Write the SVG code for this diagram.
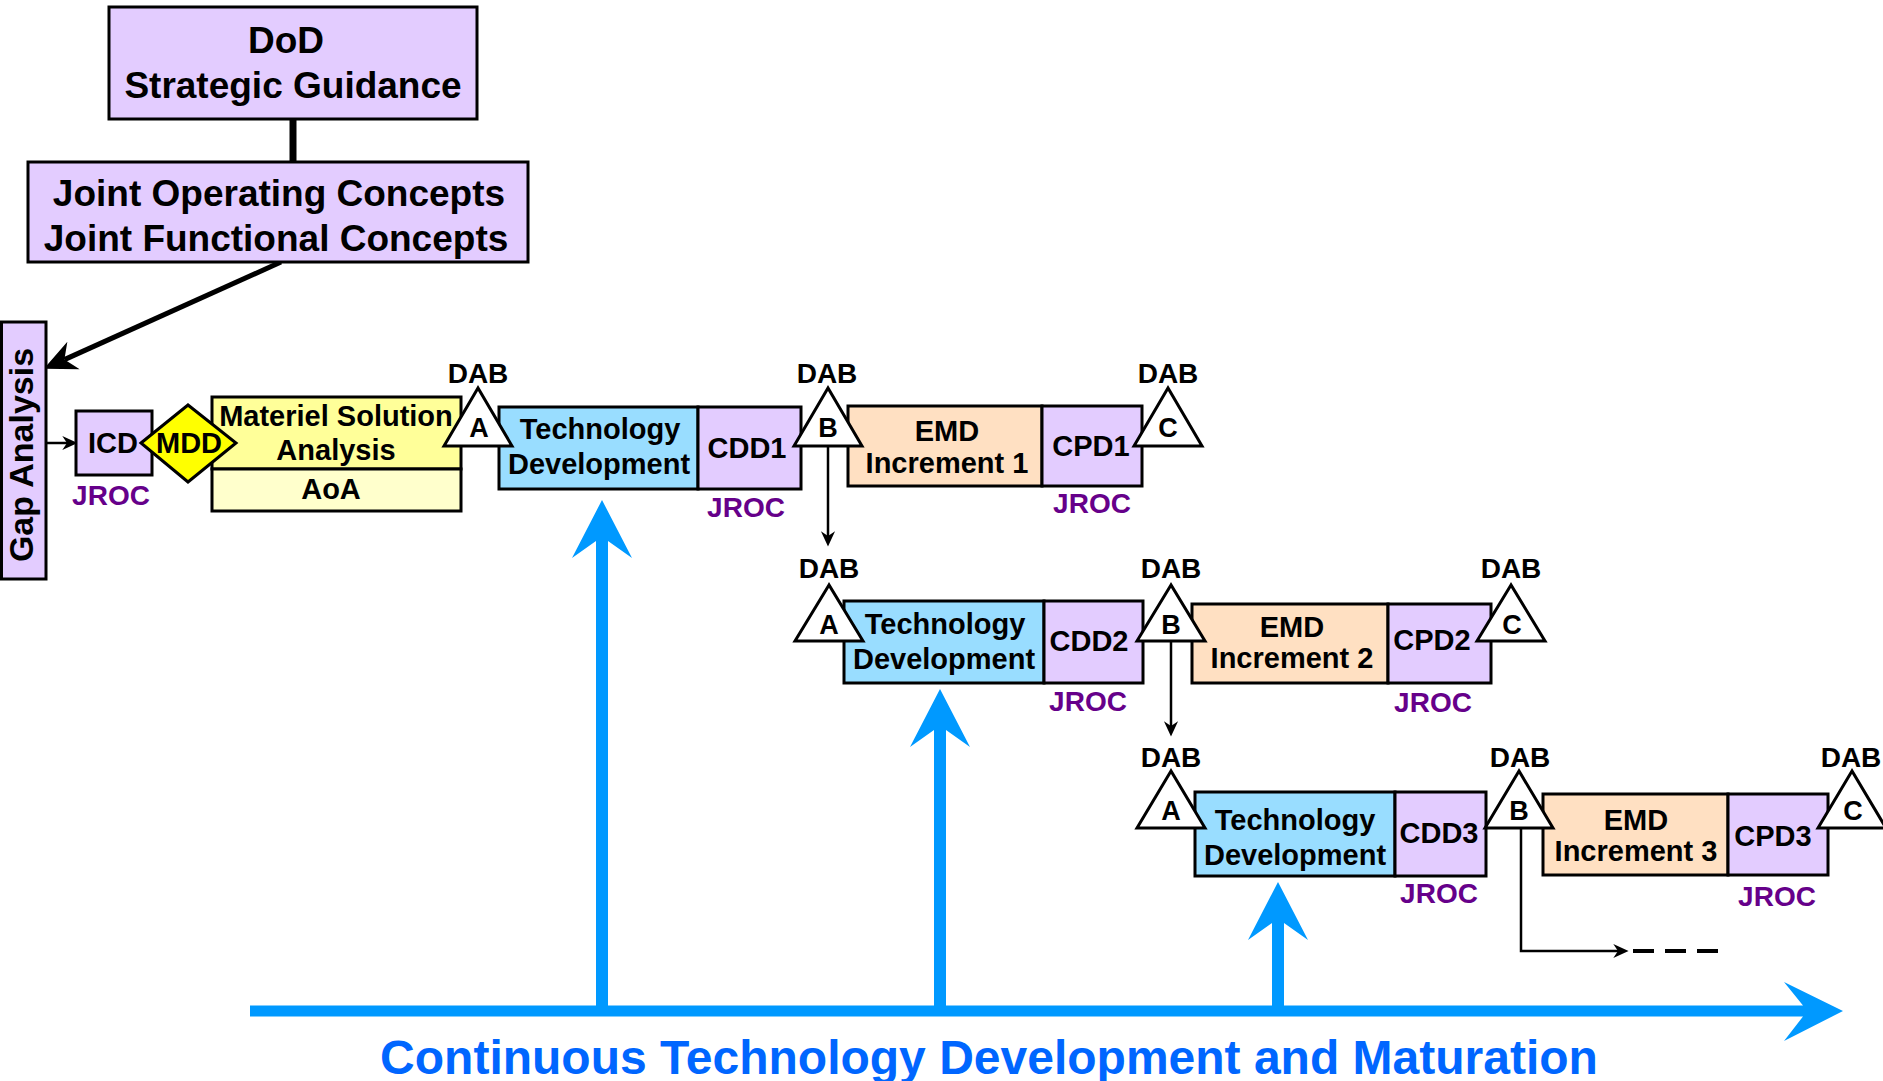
<svg xmlns="http://www.w3.org/2000/svg" width="1883" height="1081" viewBox="0 0 1883 1081">
<style>
text{font-family:"Liberation Sans",Arial,sans-serif;font-weight:bold;text-anchor:middle;fill:#000}
.big{font-size:37px}
.gap{font-size:34px}
.t{font-size:29px}
.dab{font-size:28px}
.l{font-size:27px}
.jroc{font-size:28px;fill:#66008A}
.box{stroke:#000;stroke-width:3}
.lav{fill:#E3CCFF}
.blu{fill:#99DDFF}
.pch{fill:#FFE0C2}
.tri{fill:#fff;stroke:#000;stroke-width:3;stroke-linejoin:miter}
.thin{fill:none;stroke:#000;stroke-width:2.5}
.bluearrow{fill:#0099FF}
.caption{font-size:48px;fill:#0066FF}
</style>
<defs>
<marker id="mBig" markerUnits="userSpaceOnUse" markerWidth="40" markerHeight="40" viewBox="-2 -16 32 32" refX="8" refY="0" orient="auto">
<path d="M0,-12 L26,0 L0,12 L8,0 Z" fill="#000"/>
</marker>
<marker id="mSm" markerUnits="userSpaceOnUse" markerWidth="20" markerHeight="20" viewBox="-2 -8 17 16" refX="4" refY="0" orient="auto">
<path d="M0,-6 L13,0 L0,6 L4,0 Z" fill="#000"/>
</marker>
</defs>

<g id="connectors">
<line x1="293" y1="119" x2="293" y2="162" stroke="#000" stroke-width="7"/>
<line x1="281" y1="262" x2="64.4" y2="359.6" stroke="#000" stroke-width="5" marker-end="url(#mBig)"/>
<line x1="46" y1="443" x2="67" y2="443" class="thin" marker-end="url(#mSm)"/>
<line x1="828" y1="446" x2="828" y2="536" class="thin" marker-end="url(#mSm)"/>
<line x1="1171" y1="641" x2="1171" y2="726" class="thin" marker-end="url(#mSm)"/>
<path d="M1521,828 V951 H1618" class="thin" marker-end="url(#mSm)"/>
<line x1="1633" y1="951" x2="1718" y2="951" stroke="#000" stroke-width="4" stroke-dasharray="21,11"/>
</g>

<g id="node-dod">
<rect x="109" y="7" width="368" height="112" class="box lav"/>
<text class="big" x="286" y="53">DoD</text>
<text class="big" x="293" y="98">Strategic Guidance</text>
</g>

<g id="node-joc">
<rect x="28" y="162" width="500" height="100" class="box lav"/>
<text class="big" x="279" y="206">Joint Operating Concepts</text>
<text class="big" x="276" y="251">Joint Functional Concepts</text>
</g>

<g id="node-gap">
<rect x="1.5" y="322" width="44.5" height="257" class="box lav"/>
<text class="gap" transform="translate(33,455) rotate(-90)" x="0" y="0">Gap Analysis</text>
</g>

<g id="node-icd">
<rect x="76" y="411" width="76" height="64" class="box lav"/>
<text class="t" x="113" y="453">ICD</text>
<text class="jroc" x="111" y="505">JROC</text>
</g>

<g id="node-msa">
<rect x="212" y="397" width="249" height="72" class="box" fill="#FFFF99"/>
<rect x="212" y="469" width="249" height="42" class="box" fill="#FFFFCC"/>
<text class="t" x="336" y="426">Materiel Solution</text>
<text class="t" x="336" y="460">Analysis</text>
<text class="t" x="331" y="499">AoA</text>
</g>

<g id="node-mdd">
<polygon points="141,443 188,405 236,443 188,482" fill="#FFFF00" stroke="#000" stroke-width="3"/>
<text class="t" x="189" y="453">MDD</text>
</g>

<!-- Row 1 -->
<g id="node-td1">
<rect x="499" y="407" width="199" height="82" class="box blu"/>
<text class="t" x="600" y="439">Technology</text>
<text class="t" x="599" y="474">Development</text>
</g>
<g id="node-cdd1">
<rect x="698" y="407" width="103" height="82" class="box lav"/>
<text class="t" x="747" y="458">CDD1</text>
<text class="jroc" x="746" y="517">JROC</text>
</g>
<g id="node-emd1">
<rect x="848" y="406" width="194" height="80" class="box pch"/>
<text class="t" x="947" y="441">EMD</text>
<text class="t" x="947" y="473">Increment 1</text>
</g>
<g id="node-cpd1">
<rect x="1042" y="406" width="100" height="80" class="box lav"/>
<text class="t" x="1091" y="456">CPD1</text>
<text class="jroc" x="1092" y="513">JROC</text>
</g>
<g id="node-dab-a1">
<text class="dab" x="478" y="383">DAB</text>
<polygon points="478,388 444,446 512,446" class="tri"/>
<text class="l" x="479" y="437">A</text>
</g>
<g id="node-dab-b1">
<text class="dab" x="827" y="383">DAB</text>
<polygon points="828,388 794,446 862,446" class="tri"/>
<text class="l" x="828" y="437">B</text>
</g>
<g id="node-dab-c1">
<text class="dab" x="1168" y="383">DAB</text>
<polygon points="1168,388 1134,446 1202,446" class="tri"/>
<text class="l" x="1168" y="437">C</text>
</g>

<!-- Row 2 -->
<g id="node-td2">
<rect x="844" y="601" width="200" height="82" class="box blu"/>
<text class="t" x="945" y="634">Technology</text>
<text class="t" x="944" y="669">Development</text>
</g>
<g id="node-cdd2">
<rect x="1044" y="601" width="99" height="82" class="box lav"/>
<text class="t" x="1089" y="651">CDD2</text>
<text class="jroc" x="1088" y="711">JROC</text>
</g>
<g id="node-emd2">
<rect x="1192" y="604" width="196" height="79" class="box pch"/>
<text class="t" x="1292" y="637">EMD</text>
<text class="t" x="1292" y="668">Increment 2</text>
</g>
<g id="node-cpd2">
<rect x="1388" y="604" width="103" height="79" class="box lav"/>
<text class="t" x="1432" y="650">CPD2</text>
<text class="jroc" x="1433" y="712">JROC</text>
</g>
<g id="node-dab-a2">
<text class="dab" x="829" y="578">DAB</text>
<polygon points="829,585 795,641 863,641" class="tri"/>
<text class="l" x="829" y="634">A</text>
</g>
<g id="node-dab-b2">
<text class="dab" x="1171" y="578">DAB</text>
<polygon points="1171,585 1137,641 1205,641" class="tri"/>
<text class="l" x="1171" y="634">B</text>
</g>
<g id="node-dab-c2">
<text class="dab" x="1511" y="578">DAB</text>
<polygon points="1511,585 1477,641 1545,641" class="tri"/>
<text class="l" x="1512" y="634">C</text>
</g>

<!-- Row 3 -->
<g id="node-td3">
<rect x="1195" y="792" width="200" height="84" class="box blu"/>
<text class="t" x="1295" y="830">Technology</text>
<text class="t" x="1295" y="865">Development</text>
</g>
<g id="node-cdd3">
<rect x="1395" y="792" width="91" height="84" class="box lav"/>
<text class="t" x="1439" y="843">CDD3</text>
<text class="jroc" x="1439" y="903">JROC</text>
</g>
<g id="node-emd3">
<rect x="1543" y="794" width="185" height="81" class="box pch"/>
<text class="t" x="1636" y="830">EMD</text>
<text class="t" x="1636" y="861">Increment 3</text>
</g>
<g id="node-cpd3">
<rect x="1728" y="794" width="100" height="81" class="box lav"/>
<text class="t" x="1773" y="846">CPD3</text>
<text class="jroc" x="1777" y="906">JROC</text>
</g>
<g id="node-dab-a3">
<text class="dab" x="1171" y="767">DAB</text>
<polygon points="1171,771 1137,828 1205,828" class="tri"/>
<text class="l" x="1171" y="820">A</text>
</g>
<g id="node-dab-b3">
<text class="dab" x="1520" y="767">DAB</text>
<polygon points="1519,771 1485,828 1553,828" class="tri"/>
<text class="l" x="1519" y="820">B</text>
</g>
<g id="node-dab-c3">
<text class="dab" x="1851" y="767">DAB</text>
<polygon points="1852,771 1818,828 1886,828" class="tri"/>
<text class="l" x="1853" y="820">C</text>
</g>

<!-- Continuous technology development -->
<g id="node-ctdm">
<path class="bluearrow" d="M250,1005.5 H1803 L1784,982 L1843,1011 L1784,1041 L1803,1016.5 H250 Z"/>
<path class="bluearrow" d="M596,1011 V541 L572,558 L602,500 L632,558 L608,541 V1011 Z"/>
<path class="bluearrow" d="M934,1011 V730 L910,747 L940,689 L970,747 L946,730 V1011 Z"/>
<path class="bluearrow" d="M1272,1011 V923 L1248,940 L1278,882 L1308,940 L1284,923 V1011 Z"/>
<text class="caption" x="989" y="1074">Continuous Technology Development and Maturation</text>
</g>
</svg>
